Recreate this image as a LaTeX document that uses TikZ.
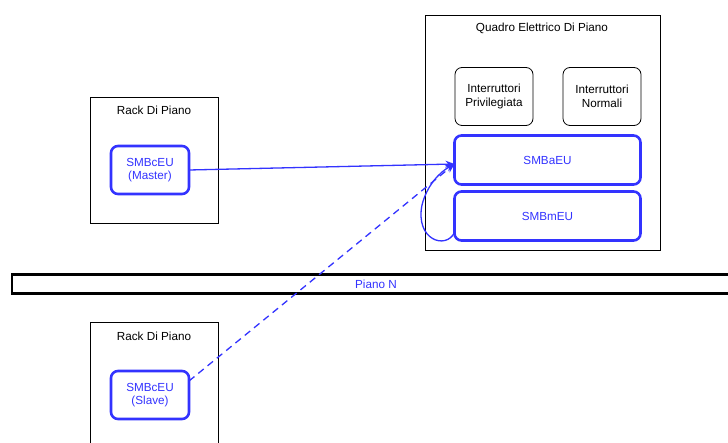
\documentclass[tikz,border=0pt]{standalone}
\usepackage{fontspec}
\setmainfont{Liberation Sans}
\usetikzlibrary{arrows.meta,calc}
\definecolor{dblue}{RGB}{51,51,255}
\begin{document}
\begin{tikzpicture}[x=1pt,y=-1pt,
  every node/.style={font=\fontsize{11.7}{13.5}\selectfont, inner sep=0pt, outer sep=0pt},
  rack/.style={draw=black, line width=0.8pt, fill=white},
  dev/.style={draw=dblue, line width=2.6pt, rounded corners=7pt, fill=white, text=dblue, align=center},
  brk/.style={draw=black, line width=0.8pt, rounded corners=7pt, fill=white, align=center},
  link/.style={draw=dblue, line width=1.3pt, -{Stealth[length=9pt,width=7pt]}}]
\useasboundingbox (0,0) rectangle (728,443);
\clip (0,0) rectangle (728,443);
% top rack
\node[rack, minimum width=128pt, minimum height=126pt] (rack1) at (154,160) {};
\node at (154,110) (rack1t) {Rack Di Piano};
\node[dev, minimum width=78pt, minimum height=48pt] (master) at (150,170) {SMBcEU\\(Master)};
% bottom rack
\node[rack, minimum width=128pt, minimum height=130pt] (rack2) at (154,387) {};
\node at (154,336) (rack2t) {Rack Di Piano};
\node[dev, minimum width=78pt, minimum height=48pt] (slave) at (150,395) {SMBcEU\\(Slave)};
% floor bar
\node[draw=black, line width=2.6pt, fill=white, minimum width=740pt, minimum height=19pt, text=dblue] (piano) at (382,284) {};
\node[text=dblue] at (376,284) (pianot) {Piano N};
% quadro
\node[rack, minimum width=235pt, minimum height=235pt] (quadro) at (542.5,132.5) {};
\node at (542,28) (quadrot) {Quadro Elettrico Di Piano};
\node[brk, minimum width=78pt, minimum height=58pt] (priv) at (494,96.5) {Interruttori\\Privilegiata};
\node[brk, minimum width=78pt, minimum height=58pt] (norm) at (602,96.5) {Interruttori\\Normali};
\node[dev, minimum width=186pt, minimum height=49pt] (smba) at (547.5,160) {SMBaEU};
\node[dev, minimum width=186pt, minimum height=49pt] (smbm) at (547.5,216) {SMBmEU};
\coordinate (tip) at ($(smba.west)+(0,4)$);
% links
\draw[link] (master.east) -- (tip);
\draw[link, dashed, dash pattern=on 7pt off 5pt] ($(slave.north east)+(0,10)$) -- (tip);
\draw[link] ($(smbm.south west)+(0,-8)$) .. controls (446,250) and (415,240) .. (422,205)
  .. controls (427,185) and (440,172) .. (tip);
\end{tikzpicture}
\end{document}
